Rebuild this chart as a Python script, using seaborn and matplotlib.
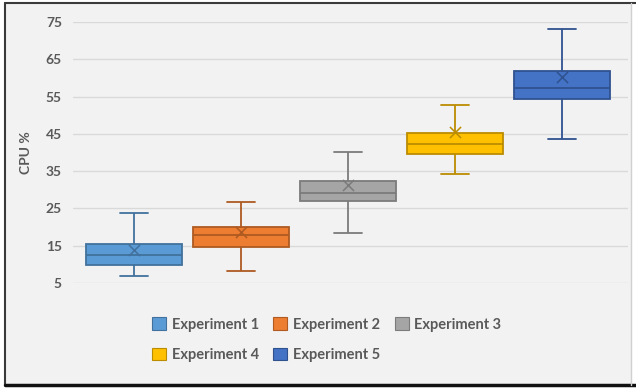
import matplotlib
matplotlib.use("Agg")
import numpy as np
import pandas as pd
import matplotlib.pyplot as plt
import seaborn as sns
from matplotlib.patches import Patch, Rectangle
from matplotlib.lines import Line2D

# Summary statistics of CPU usage per experiment
experiments = ["Experiment 1", "Experiment 2", "Experiment 3", "Experiment 4", "Experiment 5"]
whisker_low = [6.9, 8.2, 18.4, 34.2, 43.7]
q1 = [9.9, 14.7, 27.0, 39.6, 54.4]
median = [12.5, 17.9, 29.2, 42.3, 57.3]
q3 = [15.5, 20.0, 32.4, 45.2, 61.9]
whisker_high = [23.8, 26.7, 40.1, 52.7, 73.1]
mean = [13.9, 18.7, 31.3, 45.5, 60.3]
y_ticks = [5, 15, 25, 35, 45, 55, 65, 75]

fills = ["#5B9BD5", "#ED7D31", "#A5A5A5", "#FFC000", "#4472C4"]
edges = ["#41719C", "#AE5A21", "#7B7B7B", "#BC8C00", "#2F528F"]
text_color = "#595959"

# Five-number samples: with whis=(0, 100) the box/whiskers hit the stats exactly
rows = []
for i, name in enumerate(experiments):
    for v in (whisker_low[i], q1[i], median[i], q3[i], whisker_high[i]):
        rows.append({"experiment": name, "cpu": v})
df = pd.DataFrame(rows)
means_df = pd.DataFrame({"experiment": experiments, "cpu": mean})

sns.set_theme(style="white")
plt.rcParams["font.family"] = ["Lato", "DejaVu Sans"]

W, H = 636, 389
fig = plt.figure(figsize=(W / 100, H / 100), dpi=100, facecolor="white")

# Chart area background and frame
fig.patches.append(Rectangle((5 / W, 1 - 385 / H), 626 / W, 382 / H, transform=fig.transFigure,
                             facecolor="#F2F2F2", edgecolor="none", zorder=-10))
fig.lines.append(Line2D([5 / W, 1], [1 - 3 / H, 1 - 3 / H], transform=fig.transFigure, color="#3a3a3a", lw=1.5))
fig.lines.append(Line2D([5 / W, 5 / W], [1 - 3 / H, 1 - 385 / H], transform=fig.transFigure, color="#3a3a3a", lw=1.5))
fig.lines.append(Line2D([5 / W, 1], [1 - 385 / H, 1 - 385 / H], transform=fig.transFigure, color="#111111", lw=2.5))
fig.lines.append(Line2D([631 / W, 631 / W], [1 - 3 / H, 1 - 385 / H], transform=fig.transFigure, color="#d0d0d0", lw=1))

ax = fig.add_axes([73 / W, 1 - 283 / H, 555 / W, 261 / H])
ax.set_facecolor("none")

palette = dict(zip(experiments, fills))
sns.boxplot(data=df, x="experiment", y="cpu", hue="experiment", palette=palette,
            whis=(0, 100), width=0.9, saturation=1, linewidth=1.3, showfliers=False,
            legend=False, ax=ax)

# Per-series outline colours and narrower caps
for cont, ec in zip(ax.containers, edges):
    for b in cont.boxes:
        b.set_edgecolor(ec)
    for ln in list(cont.whiskers) + list(cont.medians):
        ln.set_color(ec)
    for cap in cont.caps:
        cap.set_color(ec)
        xd = np.asarray(cap.get_xdata(), dtype=float)
        c = xd.mean()
        cap.set_xdata([c - 0.13, c + 0.13])

sns.stripplot(data=means_df, x="experiment", y="cpu", hue="experiment",
              palette=dict(zip(experiments, edges)), marker="x", size=8, linewidth=1.1,
              jitter=False, legend=False, ax=ax, zorder=5)

ax.set_xlim(-0.57, 4.62)
ax.set_ylim(5, 75)
ax.set_yticks(y_ticks)
ax.set_xticks([])
ax.set_xlabel("")
ax.yaxis.grid(True, color="#D9D9D9", lw=1)
ax.set_axisbelow(True)
sns.despine(ax=ax, left=True, bottom=True)
ax.tick_params(axis="y", length=0, pad=8, labelsize=10, labelcolor=text_color)
for lbl in ax.get_yticklabels():
    lbl.set_fontweight("bold")
ax.set_ylabel("CPU %", fontsize=10, fontweight="bold", color=text_color)
ax.yaxis.set_label_coords(-0.074, 0.5)

# Legend laid out row by row: matplotlib fills columns first, so interleave
order = [0, 3, 1, 4, 2]
handles = [Patch(facecolor=fills[i], edgecolor=edges[i], linewidth=0.8) for i in order]
labels = [experiments[i] for i in order]
fig.legend(handles, labels, ncol=3, loc="upper left",
           bbox_to_anchor=(145 / W, 1 - 310 / H), frameon=False, borderpad=0,
           handlelength=0.96, handleheight=0.96, handletextpad=0.41,
           columnspacing=0.96, labelspacing=1.1,
           prop={"size": 10.5, "weight": "bold"}, labelcolor=text_color)

fig.savefig("out.png", dpi=100, facecolor="white")
